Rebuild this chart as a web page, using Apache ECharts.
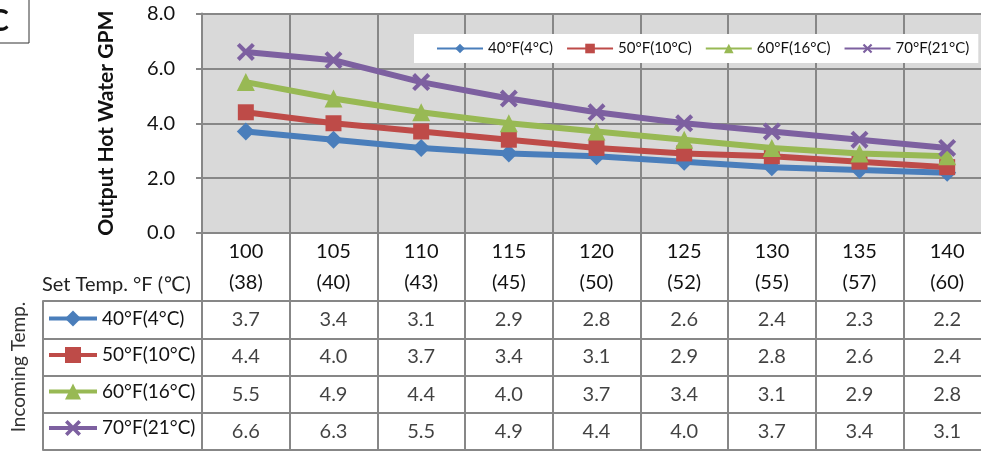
<!DOCTYPE html>
<html>
<head>
<meta charset="utf-8">
<script src="https://cdn.jsdelivr.net/npm/echarts@6/dist/echarts.min.js"></script>
<style>
  html, body { margin: 0; padding: 0; background: #fff; overflow: hidden; }
  #chart { width: 995px; height: 451px; }
</style>
</head>
<body>
<div id="chart"></div>
<script>
// data
const setTempF = ['100', '105', '110', '115', '120', '125', '130', '135', '140']
const setTempC = ['38', '40', '43', '45', '50', '52', '55', '57', '60']
const incoming = ['40°F(4°C)', '50°F(10°C)', '60°F(16°C)', '70°F(21°C)']
const gpm40 = [3.7, 3.4, 3.1, 2.9, 2.8, 2.6, 2.4, 2.3, 2.2]
const gpm50 = [4.4, 4.0, 3.7, 3.4, 3.1, 2.9, 2.8, 2.6, 2.4]
const gpm60 = [5.5, 4.9, 4.4, 4.0, 3.7, 3.4, 3.1, 2.9, 2.8]
const gpm70 = [6.6, 6.3, 5.5, 4.9, 4.4, 4.0, 3.7, 3.4, 3.1]

const font = 'Lato, "Open Sans", "DejaVu Sans", sans-serif'
const gridGray = '#878787'
const colors = ['#4A7EBB', '#BE4B48', '#98B954', '#7D60A0']
const xMark = 'path://M0,1.6 L1.6,0 L5,3.4 L8.4,0 L10,1.6 L6.6,5 L10,8.4 L8.4,10 L5,6.6 L1.6,10 L0,8.4 L3.4,5 Z'
const symbols = ['diamond', 'rect', 'triangle', xMark]
const symbolSizes = [18, 16, 18, 18]

const rows = [gpm40, gpm50, gpm60, gpm70]
const categories = setTempF.map((f, i) => f + '\n(' + setTempC[i] + ')')

// cell values for the table under the plot
let tableData = []
rows.forEach((row, r) => {
  row.forEach((v, c) => {
    tableData.push([c, r, v])
  })
})

let series = []
rows.forEach((row, i) => {
  series.push({
    name: incoming[i],
    type: 'line',
    xAxisIndex: 0,
    yAxisIndex: 0,
    data: row,
    symbol: symbols[i],
    symbolSize: symbolSizes[i],
    showAllSymbol: true,
    color: colors[i],
    lineStyle: { width: 6, color: colors[i] },
    itemStyle: { color: colors[i] },
    z: 3 + i
  })
})
series.push({
  name: 'table',
  type: 'scatter',
  xAxisIndex: 1,
  yAxisIndex: 1,
  symbolSize: 0,
  data: tableData,
  label: {
    show: true,
    position: 'inside',
    color: '#111',
    fontFamily: font,
    fontSize: 20,
    formatter: p => p.value[2].toFixed(1)
  },
  silent: true
})

const myChart = echarts.init(document.getElementById('chart'))
const option = {
  animation: false,
  backgroundColor: '#fff',
  textStyle: { fontFamily: font },
  legend: [
    {
      data: incoming,
      left: 414,
      top: 34,
      width: 700,
      padding: [7, 9, 7, 22],
      backgroundColor: '#fff',
      itemWidth: 46,
      itemHeight: 12,
      itemGap: 13,
      selectedMode: false,
      lineStyle: { width: 2 },
      textStyle: { fontFamily: font, fontSize: 15, color: '#111' },
      z: 10
    },
    {
      data: incoming,
      orient: 'vertical',
      left: 47,
      top: 309,
      padding: 0,
      itemWidth: 48,
      itemHeight: 20,
      itemGap: 17.5,
      selectedMode: false,
      lineStyle: { width: 4 },
      textStyle: { fontFamily: font, fontSize: 19, color: '#111' },
      z: 10
    }
  ],
  grid: [
    { left: 202, top: 13.5, width: 789, height: 219.5, show: true, backgroundColor: '#d9d9d9', borderWidth: 0 },
    { left: 202, top: 301, width: 789, height: 149 },
    { left: 43, top: 301, width: 159, height: 149 }
  ],
  xAxis: [
    {
      type: 'category',
      gridIndex: 0,
      data: categories,
      boundaryGap: true,
      axisLine: { show: true, lineStyle: { color: gridGray, width: 2 } },
      axisTick: { show: true, interval: 0, length: 68, lineStyle: { color: gridGray, width: 2 } },
      axisLabel: { interval: 0, margin: 3, fontSize: 20, lineHeight: 31, color: '#111', fontFamily: font },
      splitLine: { show: true, interval: 0, lineStyle: { color: gridGray, width: 2 } }
    },
    {
      type: 'category',
      gridIndex: 1,
      data: setTempF,
      boundaryGap: true,
      axisLine: { show: true, lineStyle: { color: gridGray, width: 2 } },
      axisTick: { show: false },
      axisLabel: { show: false },
      splitLine: { show: true, interval: 0, lineStyle: { color: gridGray, width: 2 } }
    },
    {
      type: 'value',
      gridIndex: 2,
      min: 0,
      max: 1,
      axisLine: { show: false },
      axisTick: { show: false },
      axisLabel: { show: false },
      splitLine: { show: false }
    }
  ],
  yAxis: [
    {
      type: 'value',
      gridIndex: 0,
      min: 0,
      max: 8,
      interval: 2,
      name: 'Output Hot Water GPM',
      nameLocation: 'middle',
      nameGap: 85,
      nameTextStyle: { fontFamily: font, fontSize: 21, fontWeight: 'bold', color: '#111' },
      axisLine: { show: true, lineStyle: { color: gridGray, width: 2 } },
      axisTick: { show: true, length: 6, lineStyle: { color: gridGray, width: 2 } },
      axisLabel: { margin: 27, fontSize: 20, color: '#111', fontFamily: font, formatter: v => v.toFixed(1) },
      splitLine: { show: true, lineStyle: { color: gridGray, width: 2 } }
    },
    {
      type: 'category',
      gridIndex: 1,
      data: incoming,
      inverse: true,
      boundaryGap: true,
      axisLine: { show: true, lineStyle: { color: gridGray, width: 2 } },
      axisTick: { show: false },
      axisLabel: { show: false },
      splitLine: { show: true, interval: 0, lineStyle: { color: gridGray, width: 2 } }
    },
    {
      type: 'category',
      gridIndex: 2,
      data: incoming,
      inverse: true,
      boundaryGap: true,
      axisLine: { show: true, lineStyle: { color: gridGray, width: 2 } },
      axisTick: { show: false },
      axisLabel: { show: false },
      splitLine: { show: true, interval: 0, lineStyle: { color: gridGray, width: 2 } }
    }
  ],
  graphic: [
    {
      type: 'rect',
      shape: { x: -10, y: -10, width: 39, height: 53 },
      style: { fill: 'none', stroke: '#333', lineWidth: 1 }
    },
    {
      type: 'text',
      x: -11,
      y: 21,
      style: { text: 'C', font: 'bold 30px ' + font, fill: '#111', verticalAlign: 'middle' }
    },
    {
      type: 'text',
      x: 42,
      y: 285,
      style: { text: 'Set Temp. °F (℃)', font: '20px ' + font, fill: '#222', verticalAlign: 'middle' }
    },
    {
      type: 'text',
      x: 19,
      y: 367,
      rotation: Math.PI / 2,
      style: { text: 'Incoming Temp.', font: '19px ' + font, fill: '#333', align: 'center', verticalAlign: 'middle' }
    }
  ],
  series
}
myChart.setOption(option)
</script>
</body>
</html>
